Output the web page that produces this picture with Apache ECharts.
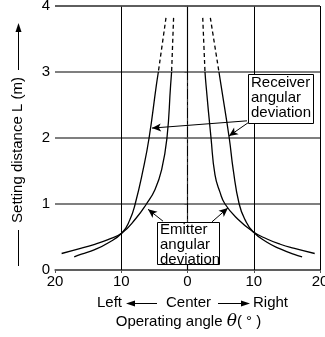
<!DOCTYPE html>
<html>
<head>
<meta charset="utf-8">
<script src="https://cdn.jsdelivr.net/npm/echarts@6/dist/echarts.min.js"></script>
<style>
  html, body { margin: 0; padding: 0; background: #fff; }
  #chart { width: 325px; height: 337px; }
</style>
</head>
<body>
<div id="chart"></div>
<script>
// values: [angle θ (deg), distance L (m)]
const receiverLeftDash = [[-3.25, 3.82], [-4.4, 3.0]];
const receiverLeft = [[-4.4, 3.0], [-4.7, 2.8], [-5.8, 2.0], [-6.7, 1.52], [-7.9, 1.0], [-8.7, 0.76], [-9.9, 0.56], [-12, 0.41], [-14, 0.31], [-16, 0.24], [-17.1, 0.2]];
const emitterLeftDash = [[-2.1, 3.82], [-2.4, 3.0]];
const emitterLeft = [[-2.4, 3.0], [-2.55, 2.8], [-3.1, 2.0], [-3.9, 1.52], [-4.9, 1.22], [-6.2, 1.0], [-7.8, 0.78], [-9.9, 0.56], [-12, 0.46], [-14, 0.39], [-16, 0.33], [-19, 0.25]];
const receiverRightDash = [[3.45, 3.82], [4.75, 3.0]];
const receiverRight = [[4.75, 3.0], [5.06, 2.8], [6.3, 2.0], [6.9, 1.52], [7.8, 1.0], [8.7, 0.76], [9.9, 0.58], [12, 0.42], [14, 0.32], [16, 0.24], [17.3, 0.2]];
const emitterRightDash = [[2.3, 3.82], [2.64, 3.0]];
const emitterRight = [[2.64, 3.0], [2.8, 2.8], [3.55, 2.0], [4.15, 1.44], [4.9, 1.18], [5.66, 1.0], [7.5, 0.78], [9.9, 0.58], [12, 0.47], [14, 0.39], [16, 0.33], [19.2, 0.25]];

const xTicks = [-20, -10, 0, 10, 20];
const yTicks = [0, 1, 2, 3, 4];

const receiverLines = ["Receiver", "angular", "deviation"];
const emitterLines = ["Emitter", "angular", "deviation"];

// annotation anchors in data space
const receiverBox = [9.13, 2.97, 18.94, 2.23];
const emitterBox = [-4.6, 0.73, 4.75, 0.09];
const receiverArrows = [[[8.98, 2.26], [-5.36, 2.15]], [[9.13, 2.23], [6.26, 2.03]]];
const emitterArrows = [[[-3.7, 0.74], [-5.96, 0.92]], [[3.7, 0.73], [6.1, 0.94]]];

const FONT = "Liberation Sans, Arial, sans-serif";
const chart = echarts.init(document.getElementById("chart"), null, { renderer: "canvas" });

function curve(data, dashed) {
  return {
    type: "line",
    data: data,
    symbol: "none",
    smooth: 0.5,
    silent: true,
    animation: false,
    lineStyle: { color: "#000", width: 1.3, type: dashed ? [4, 3] : "solid" },
  };
}

function arrowPairs(list) {
  return list.map(([a, b]) => [
    { coord: a, symbol: "none" },
    { coord: b, symbol: "arrow", symbolSize: [6, 9] },
  ]);
}

chart.setOption({
  animation: false,
  grid: { left: 55, right: 5, top: 6, bottom: 67, containLabel: false, outerBoundsMode: "none" },
  xAxis: {
    type: "value",
    min: xTicks[0],
    max: xTicks[xTicks.length - 1],
    interval: 10,
    axisLine: { show: true, lineStyle: { color: "#555", width: 1.5 } },
    axisTick: { show: true, length: 3, lineStyle: { color: "#555" } },
    axisLabel: { color: "#000", fontSize: 15, fontFamily: FONT, margin: 4, formatter: (v) => String(Math.abs(v)) },
    splitLine: { show: false },
  },
  yAxis: {
    type: "value",
    min: yTicks[0],
    max: yTicks[yTicks.length - 1],
    interval: 1,
    axisLine: { show: true, lineStyle: { color: "#333", width: 1.2 } },
    axisTick: { show: true, length: 3, lineStyle: { color: "#555" } },
    axisLabel: { color: "#000", fontSize: 15, fontFamily: FONT, margin: 5 },
    splitLine: { show: true, lineStyle: { color: "#555", width: 1.5 } },
  },
  series: [
    Object.assign(curve(receiverLeft, false), {
      markLine: {
        silent: true,
        symbol: "none",
        label: { show: false },
        lineStyle: { color: "#000", width: 1, type: "solid" },
        data: [
          [{ coord: [-10, 0] }, { coord: [-10, 4] }],
          [{ coord: [10, 0] }, { coord: [10, 4] }],
          [{ coord: [20, 0] }, { coord: [20, 4] }],
          [{ coord: [0, 3] }, { coord: [0, 4] }],
          [{ coord: [-20, 4] }, { coord: [20, 4], lineStyle: { color: "#555", width: 1.5 } }],
        ],
      },
    }),
    Object.assign(curve(receiverLeftDash, true), {
      markLine: {
        silent: true,
        symbol: "none",
        label: { show: false },
        lineStyle: { color: "#000", width: 1, type: [10, 3, 3, 3] },
        data: [[{ coord: [0, 0] }, { coord: [0, 3] }]],
      },
    }),
    curve(emitterLeft, false),
    curve(emitterLeftDash, true),
    curve(receiverRight, false),
    curve(receiverRightDash, true),
    curve(emitterRight, false),
    curve(emitterRightDash, true),
    {
      type: "line",
      data: [],
      silent: true,
      markLine: {
        silent: true,
        label: { show: false },
        lineStyle: { color: "#000", width: 1, type: "solid" },
        data: arrowPairs(receiverArrows.concat(emitterArrows)),
      },
    },
  ],
});

function box(rect, lines) {
  const p1 = chart.convertToPixel({ gridIndex: 0 }, [rect[0], rect[1]]);
  const p2 = chart.convertToPixel({ gridIndex: 0 }, [rect[2], rect[3]]);
  return {
    type: "group",
    children: [
      {
        type: "rect",
        shape: { x: Math.round(p1[0]) + 0.5, y: Math.round(p1[1]) + 0.5, width: Math.round(p2[0] - p1[0]), height: Math.round(p2[1] - p1[1]) },
        style: { fill: "#fff", stroke: "#000", lineWidth: 1 },
        z: 10,
      },
      {
        type: "text",
        x: p1[0] + 3,
        y: p1[1] + 1,
        z: 11,
        style: { text: lines.join("\n"), font: "15px " + FONT, fill: "#000", lineHeight: 15 },
      },
    ],
  };
}

chart.setOption({
  graphic: [
    box(receiverBox, receiverLines),
    box(emitterBox, emitterLines),
    // y-axis title with arrow
    {
      type: "text",
      x: 18,
      y: 150,
      rotation: Math.PI / 2,
      style: { text: "Setting distance L (m)", font: "15px " + FONT, fill: "#000", align: "center", verticalAlign: "middle" },
    },
    { type: "line", shape: { x1: 18.5, y1: 230, x2: 18.5, y2: 266 }, style: { stroke: "#000", lineWidth: 1 } },
    { type: "line", shape: { x1: 18.5, y1: 70, x2: 18.5, y2: 30 }, style: { stroke: "#000", lineWidth: 1 } },
    { type: "polygon", shape: { points: [[18.5, 23], [15.5, 32], [21.5, 32]] }, style: { fill: "#000" } },
    // x-axis titles
    { type: "text", x: 122, y: 303, style: { text: "Left", font: "15px " + FONT, fill: "#000", align: "right", verticalAlign: "middle" } },
    { type: "text", x: 188.5, y: 303, style: { text: "Center", font: "15px " + FONT, fill: "#000", align: "center", verticalAlign: "middle" } },
    { type: "text", x: 253, y: 303, style: { text: "Right", font: "15px " + FONT, fill: "#000", align: "left", verticalAlign: "middle" } },
    { type: "line", shape: { x1: 133, y1: 303.5, x2: 157, y2: 303.5 }, style: { stroke: "#000", lineWidth: 1 } },
    { type: "polygon", shape: { points: [[126, 303.5], [135, 300.5], [135, 306.5]] }, style: { fill: "#000" } },
    { type: "line", shape: { x1: 218, y1: 303.5, x2: 243, y2: 303.5 }, style: { stroke: "#000", lineWidth: 1 } },
    { type: "polygon", shape: { points: [[250, 303.5], [241, 300.5], [241, 306.5]] }, style: { fill: "#000" } },
    {
      type: "text",
      x: 188.5,
      y: 322,
      style: {
        text: "Operating angle {t|θ}( ° )",
        font: "15px " + FONT,
        fill: "#000",
        align: "center",
        verticalAlign: "middle",
        rich: { t: { fontFamily: "DejaVu Serif", fontStyle: "italic", fontSize: 17 } },
      },
    },
  ],
});
</script>
</body>
</html>
